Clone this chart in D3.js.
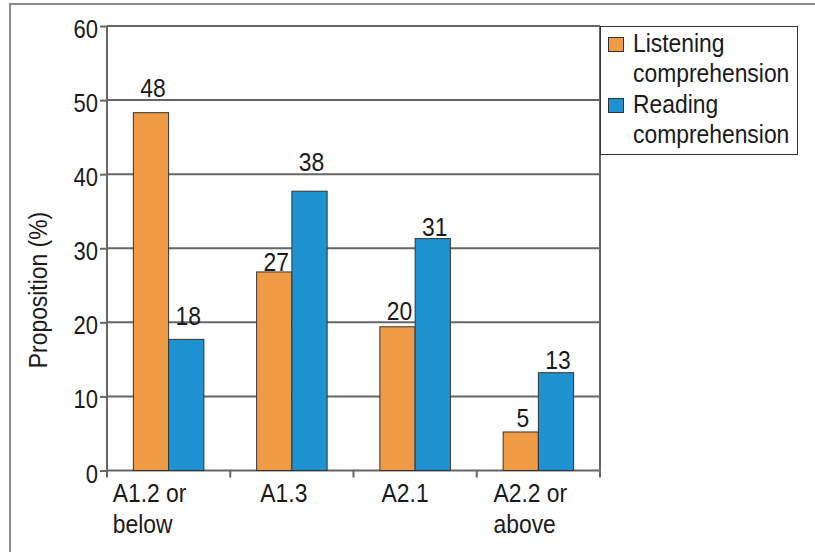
<!DOCTYPE html>
<html>
<head>
<meta charset="utf-8">
<script src="https://cdn.jsdelivr.net/npm/d3@7"></script>
<style>
  html, body { margin: 0; padding: 0; background: #fff; }
  svg { display: block; }
  text { font-family: "Liberation Sans", Arial, Helvetica, sans-serif; fill: #1a1a1a; }
</style>
</head>
<body>
<svg id="chart" width="815" height="552"></svg>
<script>
// ---- data ----
const categories = [["A1.2 or", "below"], ["A1.3"], ["A2.1"], ["A2.2 or", "above"]];
const seriesNames = [["Listening", "comprehension"], ["Reading", "comprehension"]];
const listening = [48.3, 26.8, 19.4, 5.2];
const reading = [17.7, 37.7, 31.3, 13.2];
const listeningLabels = ["48", "27", "20", "5"];
const readingLabels = ["18", "38", "31", "13"];
const yTicks = [0, 10, 20, 30, 40, 50, 60];

// ---- layout (not data) ----
const W = 815, H = 552;
const plot = { left: 107, right: 600, top: 26, bottom: 470.5 };
const colors = ["#EF9B45", "#1F93D1"];
const SX = 0.88;                 // horizontal condensing of the font
const labelLift = [[16, 1, 7, 5], [14, 20, 3, 4]];
const catNudge = [-19, -8, -10, -8];

const svg = d3.select("#chart");

// outer frame
svg.append("path")
  .attr("d", `M10,${H} L10,4 L${W},4`)
  .attr("fill", "none").attr("stroke", "#8c8c8c").attr("stroke-width", 2);

const x = d3.scaleBand().domain(d3.range(categories.length)).range([plot.left, plot.right]).paddingInner(0).paddingOuter(0);
const y = d3.scaleLinear().domain([0, 60]).range([plot.bottom, plot.top]);
const barW = x.bandwidth() * 0.286;

// gridlines
svg.append("g").selectAll("line").data(yTicks.filter(d => d > 0)).join("line")
  .attr("x1", plot.left).attr("x2", plot.right)
  .attr("y1", d => y(d)).attr("y2", d => y(d))
  .attr("stroke", "#666").attr("stroke-width", 2);

// y axis
const yAxis = svg.append("g").attr("transform", `translate(${plot.left},0)`)
  .call(d3.axisLeft(y).tickValues(yTicks).tickSize(7).tickFormat(""));
yAxis.select(".domain").attr("stroke", "#666").attr("stroke-width", 2)
  .attr("d", `M0,${plot.top}V${plot.bottom}`);
yAxis.selectAll(".tick line").attr("stroke", "#666").attr("stroke-width", 2);

svg.append("g").selectAll("text").data(yTicks).join("text")
  .attr("transform", d => `translate(98,${y(d) + 12}) scale(${SX},1)`)
  .attr("text-anchor", "end").attr("font-size", 25)
  .text(d => d);

// right border of plot
svg.append("line").attr("x1", plot.right).attr("x2", plot.right)
  .attr("y1", plot.top).attr("y2", plot.bottom)
  .attr("stroke", "#666").attr("stroke-width", 2);

// x axis
const bounds = d3.range(categories.length + 1).map(i => i < categories.length ? x(i) : plot.right);
const xAxis = svg.append("g");
xAxis.append("line").attr("x1", plot.left).attr("x2", plot.right)
  .attr("y1", plot.bottom).attr("y2", plot.bottom)
  .attr("stroke", "#666").attr("stroke-width", 2);
xAxis.selectAll("line.tk").data(bounds).join("line").attr("class", "tk")
  .attr("x1", d => d).attr("x2", d => d)
  .attr("y1", plot.bottom).attr("y2", plot.bottom + 7)
  .attr("stroke", "#666").attr("stroke-width", 2);

// bars
const series = [listening, reading];
const seriesLabels = [listeningLabels, readingLabels];
const groupW = barW * 2;
series.forEach((vals, s) => {
  svg.append("g").selectAll("rect").data(vals).join("rect")
    .attr("x", (d, i) => x(i) + (x.bandwidth() - groupW) / 2 + s * barW)
    .attr("y", d => y(d))
    .attr("width", barW)
    .attr("height", d => y(0) - y(d))
    .attr("fill", colors[s])
    .attr("stroke", "#333").attr("stroke-width", 1);
  svg.append("g").selectAll("text").data(vals).join("text")
    .attr("transform", (d, i) => `translate(${x(i) + (x.bandwidth() - groupW) / 2 + s * barW + barW / 2 + 2},${y(d) - labelLift[s][i]}) scale(${SX},1)`)
    .attr("text-anchor", "middle").attr("font-size", 26)
    .text((d, i) => seriesLabels[s][i]);
});

// category labels
categories.forEach((lines, i) => {
  const g = svg.append("g");
  const t = g.append("text").attr("font-size", 26);
  lines.forEach((ln, k) => {
    t.append("tspan").attr("x", 0).attr("y", k * 31).text(ln);
  });
  const firstW = t.select("tspan").node().getComputedTextLength() * SX;
  const cx = x(i) + x.bandwidth() / 2 + catNudge[i];
  g.attr("transform", `translate(${cx - firstW / 2},502) scale(${SX},1)`);
});

// y axis title
svg.append("text")
  .attr("transform", `translate(47,290) rotate(-90) scale(${SX},1)`)
  .attr("text-anchor", "middle").attr("font-size", 26)
  .text("Proposition (%)");

// legend
const lg = svg.append("g");
lg.append("rect").attr("x", 600.5).attr("y", 26.5).attr("width", 197).attr("height", 128)
  .attr("fill", "#fff").attr("stroke", "#333").attr("stroke-width", 1);
const legendBase = [52, 113];
seriesNames.forEach((lines, s) => {
  lg.append("rect").attr("x", 608.5).attr("y", legendBase[s] - 14.5).attr("width", 15).attr("height", 14)
    .attr("fill", colors[s]).attr("stroke", "#333").attr("stroke-width", 1);
  const t = lg.append("text").attr("font-size", 26)
    .attr("transform", `translate(633,${legendBase[s]}) scale(${SX},1)`);
  lines.forEach((ln, k) => t.append("tspan").attr("x", 0).attr("y", k * 30).text(ln));
});
</script>
</body>
</html>
